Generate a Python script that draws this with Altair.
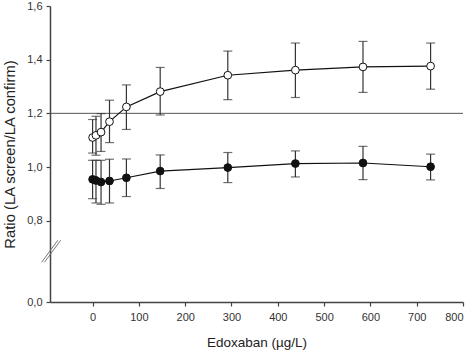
import altair as alt
import pandas as pd

x_vals = [0, 7.3, 18.25, 36.5, 73, 146, 292, 438, 584, 730]

open_mean = [1.110, 1.118, 1.130, 1.169, 1.224, 1.281, 1.342, 1.361, 1.373, 1.376]
open_hi = [1.177, 1.189, 1.199, 1.249, 1.306, 1.371, 1.432, 1.462, 1.468, 1.462]
open_lo = [1.052, 1.044, 1.058, 1.091, 1.140, 1.194, 1.251, 1.259, 1.278, 1.290]

closed_mean = [0.954, 0.950, 0.944, 0.948, 0.960, 0.985, 0.998, 1.013, 1.015, 1.001]
closed_hi = [1.025, 1.025, 1.025, 1.029, 1.030, 1.045, 1.054, 1.060, 1.077, 1.048]
closed_lo = [0.882, 0.866, 0.861, 0.866, 0.890, 0.920, 0.942, 0.963, 0.953, 0.952]

x_ticks = [0, 100, 200, 300, 400, 500, 600, 700, 800]
y_ticks = [0.497, 0.8, 1.0, 1.2, 1.4, 1.6]
y_domain = [0.497, 1.6]
x_domain = [-92, 800]
ref_level = 1.2

rows = []
for i, xv in enumerate(x_vals):
    rows.append({"x": xv, "m": open_mean[i], "lo": open_lo[i], "hi": open_hi[i], "s": "open"})
for i, xv in enumerate(x_vals):
    rows.append({"x": xv, "m": closed_mean[i], "lo": closed_lo[i], "hi": closed_hi[i], "s": "closed"})
df = pd.DataFrame(rows)

brk = pd.DataFrame({
    "x": [-110, -104], "x2": [-75, -69],
    "y": [0.645, 0.645], "y2": [0.727, 0.727],
})

FONT = "Liberation Sans"
xs = alt.Scale(domain=x_domain, nice=False, zero=False)
ys = alt.Scale(domain=y_domain, nice=False, zero=False)

X = alt.X("x:Q", scale=xs, axis=alt.Axis(
    values=x_ticks, title="Edoxaban (µg/L)", grid=False, format="d",
    tickSize=4, labelPadding=5, titlePadding=13,
    labelFontSize=11, titleFontSize=13.5,
))
Y = alt.Y("m:Q", scale=ys, axis=alt.Axis(
    values=y_ticks, title="Ratio (LA screen/LA confirm)", grid=False,
    labelExpr="datum.value < 0.6 ? '0,0' : replace(format(datum.value, '.1f'), '.', ',')",
    tickSize=4, labelPadding=4, titlePadding=9,
    labelFontSize=11, titleFontSize=14.8,
))

base = alt.Chart(df)

hline = alt.Chart(pd.DataFrame({"y": [ref_level]})).mark_rule(
    color="#555555", strokeWidth=1
).encode(y=alt.Y("y:Q", scale=ys))

lines = base.mark_line(color="#111111", strokeWidth=1.2).encode(
    x=X, y=Y, detail="s:N"
)

err = base.mark_rule(color="#333333", strokeWidth=1.2).encode(
    x=alt.X("x:Q", scale=xs), y=alt.Y("lo:Q", scale=ys), y2="hi:Q"
)
cap_hi = base.mark_tick(color="#333333", thickness=1.2, size=9, orient="horizontal").encode(
    x=alt.X("x:Q", scale=xs), y=alt.Y("hi:Q", scale=ys)
)
cap_lo = base.mark_tick(color="#333333", thickness=1.2, size=9, orient="horizontal").encode(
    x=alt.X("x:Q", scale=xs), y=alt.Y("lo:Q", scale=ys)
)

pts = base.mark_point(filled=True, size=60, stroke="#111111", strokeWidth=1, opacity=1).encode(
    x=alt.X("x:Q", scale=xs), y=alt.Y("m:Q", scale=ys),
    fill=alt.Fill("s:N", scale=alt.Scale(domain=["open", "closed"], range=["#ffffff", "#111111"]), legend=None),
)

breaks = alt.Chart(brk).mark_rule(color="#777777", strokeWidth=1, clip=False).encode(
    x=alt.X("x:Q", scale=xs), x2="x2:Q", y=alt.Y("y:Q", scale=ys), y2="y2:Q"
)

chart = alt.layer(hline, lines, err, cap_hi, cap_lo, pts, breaks).properties(
    width=413, height=296,
    autosize=alt.AutoSizeParams(type="none"),
    padding={"left": 50, "top": 6, "right": 11, "bottom": 50},
).configure_view(stroke=None).configure_axis(
    domainColor="#444444", tickColor="#444444", labelColor="#333333", titleColor="#222222",
    labelFont=FONT, titleFont=FONT, titleFontWeight="normal", domainWidth=1.5, tickWidth=1.2,
)

chart.save("out.html", embed_options={"renderer": "svg", "actions": False})
